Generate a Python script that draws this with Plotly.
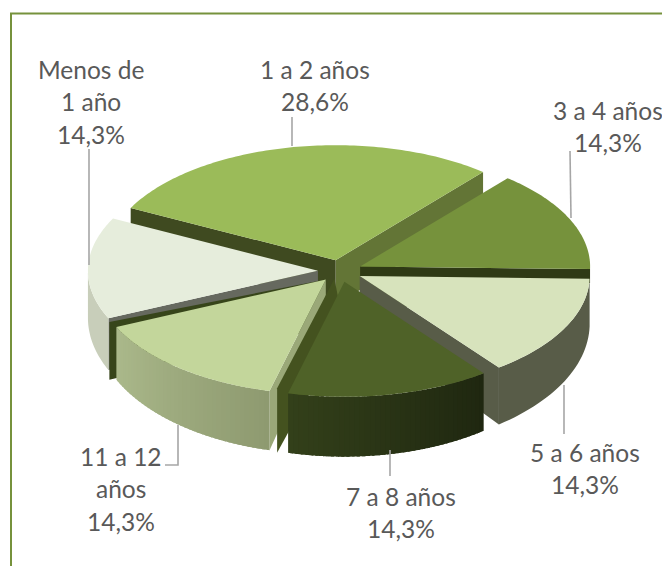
import math
import plotly.graph_objects as go

# ---- data ----
categories = ["Menos de<br>1 año", "1 a 2 años", "3 a 4 años", "5 a 6 años", "7 a 8 años", "11 a 12<br>años"]
values = [14.3, 28.6, 14.3, 14.3, 14.3, 14.3]

# ---- style ----
top_colors = ["#e6eddc", "#9bbb59", "#76923c", "#d7e3bc", "#4f6228", "#c3d69b"]
rim_left = ["#c8ceba", "#637536", "#2f3a15", "#585c48", "#33401a", "#abb98b"]
rim_right = ["#c8ceba", "#637536", "#2f3a15", "#585c48", "#1f2710", "#8e9a70"]
start_face = ["#66695f", "#3f4a20", None, None, None, "#9aa878"]
end_face = [None, "#637536", "#2f3a15", "#585c48", "#44521f", "#37451a"]
end_face_shift = [None, None, None, None, (-11, -5), (-7, -5)]
end_face_apex_shift = [None, None, None, None, (-10, -3), None]
end_face_depth = [None, None, 14, None, None, None]
paint_order = [1, 2, 0, 3, 5, 4]
label_xy = [(91, 69), (315, 69), (607.5, 110), (585, 452), (401, 496), (121, 456)]
leaders = [
    [(89, 149), (89, 265)],
    [(292, 117), (292, 146)],
    [(570, 151), (571, 218)],
    [(564, 385), (564, 434)],
    [(390, 450), (390, 476)],
    [(178, 425), (178, 465), (165, 465)],
]

CX, CY, A, B = 340.0, 271.0, 230.0, 115.0
EXPLODE = 0.096
T0, TQ = 47.0, 0.25
START = 245.6
LINE_STEP = 32.5

fig = go.Figure()


def add_poly(pts, color):
    fig.add_trace(go.Scatter(
        x=[p[0] for p in pts] + [pts[0][0]],
        y=[p[1] for p in pts] + [pts[0][1]],
        mode="none", fill="toself", fillcolor=color,
        hoverinfo="skip", showlegend=False))


def mix(c1, c2, t):
    a = [int(c1[i:i + 2], 16) for i in (1, 3, 5)]
    b = [int(c2[i:i + 2], 16) for i in (1, 3, 5)]
    return "#%02x%02x%02x" % tuple(round(x + (y - x) * t) for x, y in zip(a, b))


total = sum(values)
spans = []
ang = START
for v in values:
    d = 360.0 * v / total
    spans.append((ang, ang + d))
    ang += d


def project(theta, r, off):
    t = math.radians(theta)
    u, w = off[0] + r * math.sin(t), off[1] - r * math.cos(t)
    return CX + A * u, CY + B * w, T0 * (1 + TQ * w)


def slice_offset(i):
    mid = math.radians((spans[i][0] + spans[i][1]) / 2)
    return (EXPLODE * math.sin(mid), -EXPLODE * math.cos(mid))


def face(i, theta, color, shift=None, depth=None, apex_shift=None):
    if color is None:
        return
    off = slice_offset(i)
    ax, ay, at = project(0, 0, off)
    x, y, t = project(theta, 1, off)
    sx, sy = shift or (0, 0)
    px, py = apex_shift or (0, 0)
    add_poly([(ax + px, ay + py), (x + sx, y + sy), (x + sx, y + (depth or t)), (ax, ay + at)], color)


for i in paint_order:
    a0, a1 = spans[i]
    off = slice_offset(i)
    ax, ay, at = project(0, 0, off)

    face(i, a1, end_face[i], end_face_shift[i], end_face_depth[i], end_face_apex_shift[i])
    face(i, a0, start_face[i])

    # outer wall, front half only
    lo, hi = max(a0 % 360, 90), min(a0 % 360 + (a1 - a0), 270)
    if hi - lo > 5:
        n = 40 if rim_left[i] != rim_right[i] else 1
        for k in range(n):
            b0 = lo + (hi - lo) * k / n
            b1 = min(hi, lo + (hi - lo) * (k + 1.6) / n)
            steps = [b0 + (b1 - b0) * j / 30 for j in range(31)]
            upper = [project(s, 1, off) for s in steps]
            pts = [(p[0], p[1]) for p in upper] + [(p[0], p[1] + p[2]) for p in reversed(upper)]
            t = 1 - (k + 0.5) / n
            add_poly(pts, mix(rim_left[i], rim_right[i], t))

    # top surface
    n = max(24, int((a1 - a0)))
    arc = [project(a0 + (a1 - a0) * j / n, 1, off)[:2] for j in range(n + 1)]
    add_poly([(ax, ay)] + arc, top_colors[i])

# leader lines
for pts in leaders:
    fig.add_trace(go.Scatter(
        x=[p[0] for p in pts], y=[p[1] for p in pts], mode="lines",
        line=dict(color="#a6a6a6", width=1.6), hoverinfo="skip", showlegend=False))

# labels
annotations = []
for name, v, (lx, ly) in zip(categories, values, label_xy):
    pct = f"{100 * v / total:.1f}".replace(".", ",") + "%"
    for j, line in enumerate(name.split("<br>") + [pct]):
        annotations.append(dict(
            x=lx, y=ly + j * LINE_STEP, text=line, showarrow=False,
            xref="x", yref="y", xanchor="center", yanchor="middle",
            font=dict(family="Lato", size=24.5, color="#595959")))

fig.update_layout(
    width=662, height=566, autosize=False,
    margin=dict(l=0, r=0, t=0, b=0),
    paper_bgcolor="white", plot_bgcolor="white", showlegend=False,
    xaxis=dict(range=[0, 662], visible=False, fixedrange=True),
    yaxis=dict(range=[566, 0], visible=False, fixedrange=True),
    annotations=annotations,
    shapes=[dict(type="rect", xref="x", yref="y", x0=11, y0=13.5, x1=700, y1=600,
                 line=dict(color="#76923c", width=2), fillcolor="rgba(0,0,0,0)", layer="below")],
)
# the page's default body margin would push the 662x566 figure out of the window
fig.write_html("out.html", config={"displayModeBar": False},
               post_script="document.body.style.margin='0';document.documentElement.style.overflow='hidden';")
